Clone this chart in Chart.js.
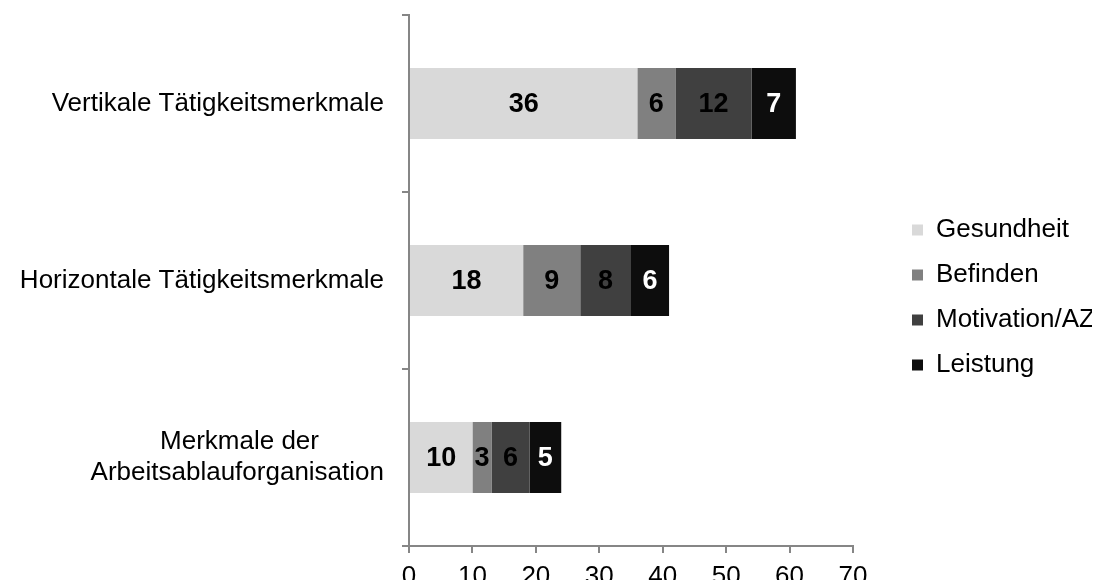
<!DOCTYPE html>
<html>
<head>
<meta charset="utf-8">
<script src="https://cdn.jsdelivr.net/npm/chart.js@4/dist/chart.umd.min.js"></script>
<style>
  html, body { margin: 0; padding: 0; background: #fff; }
</style>
</head>
<body>
<canvas id="chart" width="1098" height="587"></canvas>
<script>
// categories (top to bottom); the trailing spaces centre the first line over the second
const categories = [
    'Vertikale Tätigkeitsmerkmale',
    'Horizontale Tätigkeitsmerkmale',
    ['Merkmale der         ', 'Arbeitsablauforganisation']
];

const seriesNames = ['Gesundheit', 'Befinden', 'Motivation/AZ', 'Leistung'];
const gesundheit = [36, 18, 10];
const befinden = [6, 9, 3];
const motivation = [12, 8, 6];
const leistung = [7, 6, 5];

const seriesColors = ['#d9d9d9', '#808080', '#404040', '#0d0d0d'];
const labelColors = ['#000000', '#000000', '#000000', '#ffffff'];

const xTickMin = 0;
const xTickMax = 70;
const xTickStep = 10;

const axisGray = '#868686';
const fontFamily = "'Liberation Sans', Arial, sans-serif";

Chart.defaults.font.family = fontFamily;
Chart.defaults.color = '#000';

// draws the value in the middle of every bar segment
const segmentLabels = {
    id: 'segmentLabels',
    afterDatasetsDraw(chart) {
        const ctx = chart.ctx;
        ctx.save();
        ctx.font = 'bold 27px ' + fontFamily;
        ctx.textAlign = 'center';
        ctx.textBaseline = 'middle';
        chart.data.datasets.forEach((ds, i) => {
            const meta = chart.getDatasetMeta(i);
            meta.data.forEach((bar, j) => {
                const p = bar.getCenterPoint();
                ctx.fillStyle = labelColors[i];
                ctx.fillText(String(ds.data[j]), p.x, p.y + 1);
            });
        });
        ctx.restore();
    }
};

const allSeries = [gesundheit, befinden, motivation, leistung];

new Chart(document.getElementById('chart'), {
    type: 'bar',
    data: {
        labels: categories,
        datasets: allSeries.map((values, i) => ({
            label: seriesNames[i],
            data: values,
            backgroundColor: seriesColors[i],
            borderWidth: 0,
            barPercentage: 0.4,
            categoryPercentage: 1.0
        }))
    },
    options: {
        indexAxis: 'y',
        responsive: false,
        animation: false,
        devicePixelRatio: 1,
        layout: { padding: { left: 0, right: 6, top: 15, bottom: 7 } },
        scales: {
            x: {
                stacked: true,
                min: xTickMin,
                max: xTickMax,
                ticks: { stepSize: xTickStep, font: { size: 26 }, color: '#000', padding: 8 },
                grid: { drawOnChartArea: false, drawTicks: true, tickLength: 7, color: axisGray, lineWidth: 2 },
                border: { color: axisGray, width: 2 },
                afterFit(scale) {
                    scale.height = 34;
                    scale.paddingLeft = 0;
                    scale.paddingRight = 0;
                }
            },
            y: {
                stacked: true,
                ticks: { font: { size: 26 }, color: '#000', padding: 18 },
                grid: { offset: true, drawOnChartArea: false, drawTicks: true, tickLength: 7, color: axisGray, lineWidth: 2 },
                border: { color: axisGray, width: 2 },
                afterFit(scale) {
                    scale.width = 409;
                    scale.paddingTop = 0;
                    scale.paddingBottom = 0;
                }
            },
            // empty spacer between the plot and the legend
            gap: {
                type: 'linear',
                axis: 'y',
                position: 'right',
                display: true,
                grid: { display: false },
                border: { display: false },
                ticks: { display: false },
                afterFit(scale) {
                    scale.width = 40;
                    scale.paddingTop = 0;
                    scale.paddingBottom = 0;
                }
            }
        },
        plugins: {
            legend: {
                position: 'right',
                align: 'center',
                maxWidth: 199,
                labels: {
                    boxWidth: 11,
                    boxHeight: 11,
                    padding: 19,
                    font: { size: 26 },
                    color: '#000'
                }
            },
            tooltip: { enabled: false }
        }
    },
    plugins: [segmentLabels]
});
</script>
</body>
</html>
